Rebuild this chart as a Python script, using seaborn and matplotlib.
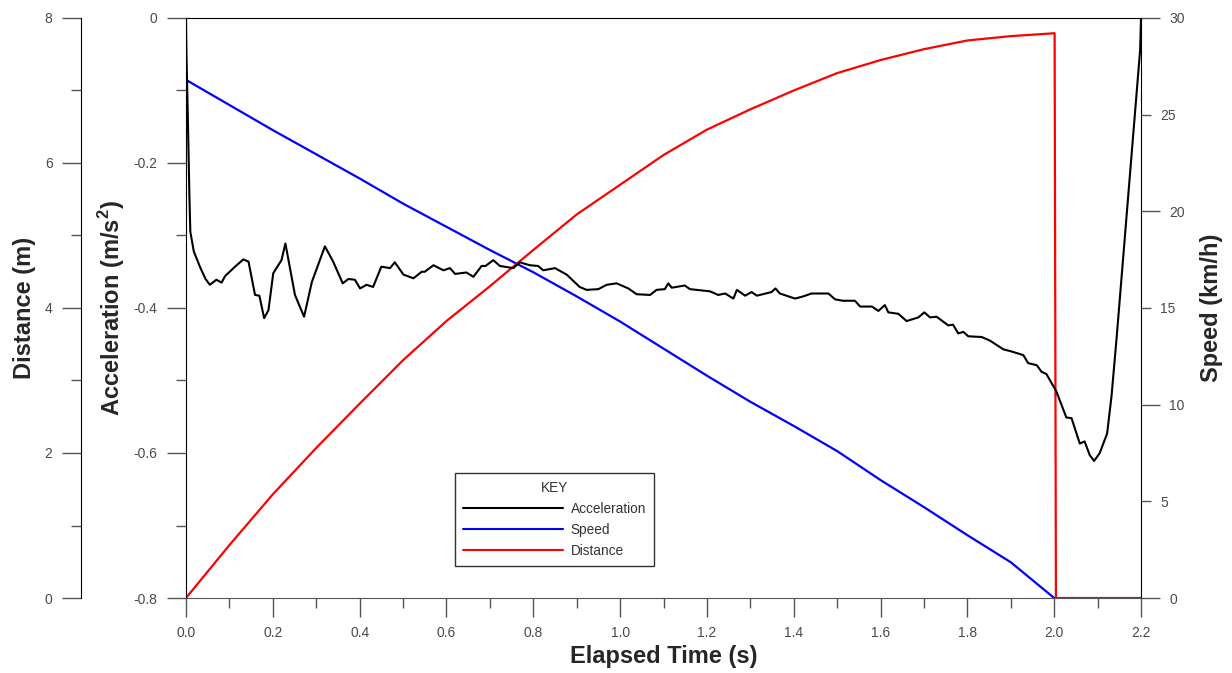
import matplotlib
matplotlib.use("Agg")
import matplotlib.pyplot as plt
from matplotlib.ticker import MultipleLocator, FixedLocator, FuncFormatter
from matplotlib.lines import Line2D
import seaborn as sns
import pandas as pd

# ---------------- data ----------------
accel_t = [0.000, 0.001, 0.002, 0.004, 0.006, 0.008, 0.010, 0.018, 0.032, 0.045, 0.055,
           0.070, 0.082, 0.090, 0.113, 0.132, 0.144, 0.159, 0.169, 0.180, 0.190, 0.201,
           0.220, 0.229, 0.251, 0.272, 0.290, 0.320, 0.339, 0.361, 0.374, 0.389, 0.401,
           0.416, 0.431, 0.450, 0.470, 0.481, 0.501, 0.524, 0.543, 0.550, 0.570, 0.593,
           0.608, 0.620, 0.646, 0.662, 0.681, 0.690, 0.708, 0.723, 0.754, 0.769, 0.792,
           0.811, 0.823, 0.850, 0.877, 0.907, 0.923, 0.950, 0.969, 0.992, 1.019, 1.038,
           1.069, 1.084, 1.103, 1.111, 1.119, 1.149, 1.161, 1.207, 1.226, 1.242, 1.261,
           1.269, 1.288, 1.303, 1.315, 1.349, 1.358, 1.368, 1.403, 1.422, 1.441, 1.480,
           1.495, 1.513, 1.541, 1.553, 1.580, 1.595, 1.610, 1.618, 1.641, 1.660, 1.687,
           1.701, 1.714, 1.729, 1.756, 1.767, 1.779, 1.791, 1.802, 1.833, 1.852, 1.883,
           1.902, 1.929, 1.940, 1.960, 1.971, 1.982, 2.005, 2.028, 2.040, 2.059, 2.070,
           2.082, 2.092, 2.105, 2.122, 2.132, 2.144, 2.198, 2.200]
accel_v = [0.000, -0.050, -0.075, -0.130, -0.190, -0.250, -0.295, -0.322, -0.343, -0.360, -0.368,
           -0.361, -0.365, -0.356, -0.343, -0.333, -0.336, -0.382, -0.383, -0.414, -0.403, -0.352,
           -0.334, -0.311, -0.382, -0.412, -0.364, -0.315, -0.336, -0.366, -0.360, -0.361, -0.373,
           -0.368, -0.371, -0.343, -0.345, -0.337, -0.354, -0.359, -0.350, -0.350, -0.341, -0.348,
           -0.345, -0.353, -0.351, -0.357, -0.342, -0.342, -0.334, -0.342, -0.345, -0.337, -0.341,
           -0.342, -0.348, -0.345, -0.354, -0.371, -0.375, -0.374, -0.368, -0.366, -0.373, -0.381,
           -0.382, -0.375, -0.374, -0.366, -0.372, -0.369, -0.374, -0.377, -0.382, -0.380, -0.387,
           -0.375, -0.383, -0.378, -0.383, -0.378, -0.373, -0.380, -0.387, -0.384, -0.380, -0.380,
           -0.388, -0.390, -0.390, -0.398, -0.398, -0.404, -0.396, -0.406, -0.408, -0.418, -0.413,
           -0.406, -0.413, -0.412, -0.424, -0.423, -0.435, -0.433, -0.439, -0.440, -0.445, -0.457,
           -0.460, -0.465, -0.476, -0.479, -0.488, -0.491, -0.515, -0.551, -0.552, -0.587, -0.584,
           -0.603, -0.611, -0.600, -0.573, -0.522, -0.440, -0.044, 0.000]

speed_t = [0.0, 0.1, 0.2, 0.3, 0.4, 0.5, 0.6, 0.7, 0.8, 0.9, 1.0, 1.1, 1.2, 1.3, 1.4,
           1.5, 1.6, 1.7, 1.8, 1.9, 2.0]
speed_v = [26.8, 25.5, 24.2, 22.95, 21.7, 20.4, 19.2, 18.0, 16.85, 15.6, 14.3, 12.9, 11.5,
           10.15, 8.9, 7.6, 6.1, 4.7, 3.25, 1.85, 0.0]

dist_t = [0.0, 0.1, 0.2, 0.3, 0.4, 0.5, 0.6, 0.7, 0.8, 0.9, 1.0, 1.1, 1.2, 1.3, 1.4,
          1.5, 1.6, 1.7, 1.8, 1.9, 2.001, 2.004, 2.2]
dist_v = [0.0, 0.73, 1.43, 2.07, 2.68, 3.28, 3.82, 4.30, 4.80, 5.29, 5.70, 6.11, 6.46,
          6.74, 7.00, 7.24, 7.42, 7.57, 7.69, 7.75, 7.79, 0.0, 0.0]

x_ticks = [0.0, 0.2, 0.4, 0.6, 0.8, 1.0, 1.2, 1.4, 1.6, 1.8, 2.0, 2.2]
acc_ticks = [-0.8, -0.6, -0.4, -0.2, 0.0]
dist_ticks = [0, 2, 4, 6, 8]
speed_major = [0, 10, 20, 30]
speed_minor = [5, 15, 25]

# ---------------- style ----------------
sns.set_style("white")
plt.rcParams["font.family"] = ["Liberation Sans", "DejaVu Sans"]
plt.rcParams["axes.unicode_minus"] = False
plt.rcParams["mathtext.fontset"] = "custom"
plt.rcParams["mathtext.rm"] = "Liberation Sans:bold"
plt.rcParams["mathtext.bf"] = "Liberation Sans:bold"

TICK_COL = "#555555"
LAB_COL = "#4a4a4a"
MAJ_LEN, MIN_LEN = 13.5, 7.0
PAD = 7.0
TSIZE = 10
LSIZE = 17

df_a = pd.DataFrame({"t": accel_t, "a": accel_v})
df_s = pd.DataFrame({"t": speed_t, "s": speed_v})
df_d = pd.DataFrame({"t": dist_t, "d": dist_v})

fig = plt.figure(figsize=(12.32, 6.73), dpi=100)
ax = fig.add_axes([186 / 1232, 1 - 598 / 673, 955 / 1232, 580 / 673])
ax_d = ax.twinx()
ax_s = ax.twinx()

sns.lineplot(data=df_d, x="t", y="d", ax=ax_d, color="#ff0000", lw=1.6, sort=False,
             estimator=None)
sns.lineplot(data=df_s, x="t", y="s", ax=ax_s, color="#0000ff", lw=1.6, sort=False,
             estimator=None)
sns.lineplot(data=df_a, x="t", y="a", ax=ax, color="black", lw=1.5, sort=False,
             estimator=None)
ax.set_zorder(3)
ax.patch.set_visible(False)
ax_d.set_zorder(2)
ax_s.set_zorder(1)

# x axis
ax.set_xlim(0, 2.2)
ax.xaxis.set_major_locator(FixedLocator(x_ticks))
ax.xaxis.set_minor_locator(MultipleLocator(0.1))
ax.xaxis.set_major_formatter(FuncFormatter(lambda v, p: f"{v:.1f}"))
ax.set_xlabel("Elapsed Time (s)", fontsize=LSIZE, fontweight="bold", labelpad=3)

# acceleration axis
ax.set_ylim(-0.8, 0)
ax.yaxis.set_major_locator(FixedLocator(acc_ticks))
ax.yaxis.set_minor_locator(MultipleLocator(0.1))
ax.yaxis.set_major_formatter(FuncFormatter(lambda v, p: f"{v:g}" if abs(v) > 1e-9 else "0"))
ax.set_ylabel(r"Acceleration (m/s$^{2}$)", fontsize=LSIZE, fontweight="bold", labelpad=5)

ax.tick_params(axis="both", which="major", direction="out", length=MAJ_LEN, width=1,
               color=TICK_COL, labelcolor=LAB_COL, labelsize=TSIZE, pad=PAD,
               bottom=True, left=True, top=False, right=False)
ax.tick_params(axis="both", which="minor", direction="out", length=MIN_LEN, width=1,
               color=TICK_COL, bottom=True, left=True, top=False, right=False)
for side in ["left", "top"]:
    ax.spines[side].set_color("black")
ax.spines["bottom"].set_color(TICK_COL)
ax.spines["right"].set_visible(False)

# distance axis on outer left (105 px = 75.6 pt outward)
ax_d.set_ylim(0, 8)
ax_d.yaxis.set_ticks_position("left")
ax_d.yaxis.set_label_position("left")
ax_d.spines["left"].set_position(("outward", 75.6))
for side in ["right", "top", "bottom"]:
    ax_d.spines[side].set_visible(False)
ax_d.spines["left"].set_visible(True)
ax_d.spines["left"].set_color("black")
ax_d.yaxis.set_major_locator(FixedLocator(dist_ticks))
ax_d.yaxis.set_minor_locator(MultipleLocator(1))
ax_d.tick_params(axis="y", which="major", direction="out", length=MAJ_LEN, width=1,
                 color=TICK_COL, labelcolor=LAB_COL, labelsize=TSIZE, pad=PAD)
ax_d.tick_params(axis="y", which="minor", direction="out", length=MIN_LEN, width=1,
                 color=TICK_COL)
ax_d.set_ylabel("Distance (m)", fontsize=LSIZE, fontweight="bold", labelpad=6)
ax_d.set_xlabel("")

# speed axis on right
ax_s.set_ylim(0, 30)
for side in ["left", "top", "bottom"]:
    ax_s.spines[side].set_visible(False)
ax_s.spines["right"].set_color("black")
ax_s.yaxis.set_major_locator(FixedLocator(speed_major))
ax_s.yaxis.set_minor_locator(FixedLocator(speed_minor))
ax_s.yaxis.set_minor_formatter(FuncFormatter(lambda v, p: f"{v:g}"))
ax_s.tick_params(axis="y", which="major", direction="out", length=MAJ_LEN, width=1,
                 color=TICK_COL, labelcolor=LAB_COL, labelsize=TSIZE, pad=PAD)
ax_s.tick_params(axis="y", which="minor", direction="out", length=MIN_LEN, width=1,
                 color=TICK_COL, labelcolor=LAB_COL, labelsize=TSIZE, pad=PAD)
ax_s.set_ylabel("Speed (km/h)", fontsize=LSIZE, fontweight="bold", labelpad=11)
ax_s.set_xlabel("")

# legend
handles = [Line2D([], [], color="black", lw=1.5),
           Line2D([], [], color="#0000ff", lw=1.5),
           Line2D([], [], color="#ff0000", lw=1.5)]
leg = ax.legend(handles, ["Acceleration", "Speed", "Distance"], title="KEY",
                loc="lower left", bbox_to_anchor=(0.2817, 0.0552), borderaxespad=0,
                fontsize=9.8, title_fontsize=9.8, frameon=True, fancybox=False,
                handlelength=7.3, handletextpad=0.6, labelspacing=0.5,
                borderpad=0.6, framealpha=1)
leg.get_frame().set_edgecolor("#333333")
leg.get_frame().set_linewidth(1.0)
for t in leg.get_texts():
    t.set_color("#333333")
leg.get_title().set_color("#333333")

fig.savefig("out.png", dpi=100)
